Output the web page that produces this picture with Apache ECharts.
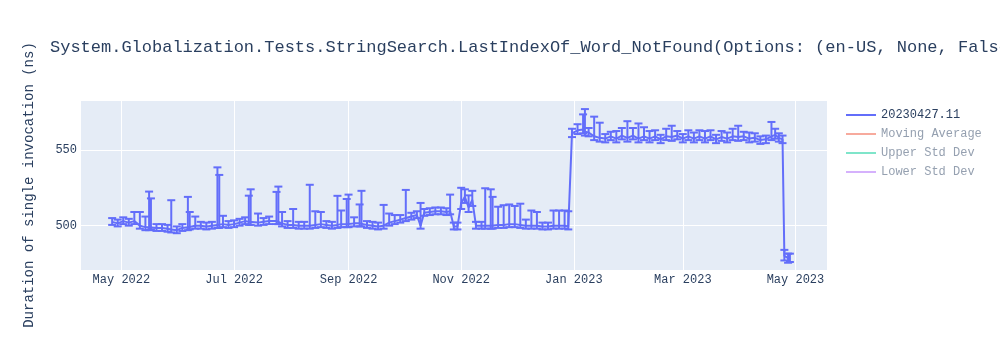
<!DOCTYPE html>
<html><head><meta charset="utf-8">
<script src="https://cdn.jsdelivr.net/npm/echarts@6/dist/echarts.min.js"></script>
<style>html,body{margin:0;padding:0;background:#fff}#c{width:1000px;height:350px}</style>
</head><body><div id="c"></div>
<script>
const titleText = "System.Globalization.Tests.StringSearch.LastIndexOf_Word_NotFound(Options: (en-US, None, False))";
const yAxisTitle = "Duration of single invocation (ns)";
const seriesName = "20230427.11";
const extraNames = ["Moving Average", "Upper Std Dev", "Lower Std Dev"];
const monthNames = ["Jan","Feb","Mar","Apr","May","Jun","Jul","Aug","Sep","Oct","Nov","Dec"];

const dates = [
"2022-04-26","2022-04-29","2022-05-02","2022-05-05","2022-05-08","2022-05-11","2022-05-14","2022-05-16","2022-05-17","2022-05-20",
"2022-05-23","2022-05-26","2022-05-28","2022-05-31","2022-06-03","2022-06-06","2022-06-07","2022-06-10","2022-06-13","2022-06-16",
"2022-06-19","2022-06-22","2022-06-23","2022-06-25","2022-06-28","2022-07-01","2022-07-04","2022-07-07","2022-07-09","2022-07-10",
"2022-07-14","2022-07-17","2022-07-20","2022-07-24","2022-07-25","2022-07-27","2022-07-30","2022-08-02","2022-08-05","2022-08-08",
"2022-08-11","2022-08-14","2022-08-17","2022-08-20","2022-08-23","2022-08-26","2022-08-28","2022-08-31","2022-09-01","2022-09-04",
"2022-09-07","2022-09-08","2022-09-11","2022-09-14","2022-09-17","2022-09-20","2022-09-23","2022-09-26","2022-09-29","2022-10-02",
"2022-10-05","2022-10-08","2022-10-10","2022-10-12","2022-10-15","2022-10-18","2022-10-21","2022-10-24","2022-10-26","2022-10-28",
"2022-10-30","2022-11-01","2022-11-03","2022-11-05","2022-11-07","2022-11-09","2022-11-12","2022-11-14","2022-11-17","2022-11-18",
"2022-11-21","2022-11-24","2022-11-27","2022-11-30","2022-12-03","2022-12-06","2022-12-09","2022-12-12","2022-12-15","2022-12-18",
"2022-12-21","2022-12-24","2022-12-27","2022-12-29","2022-12-31","2023-01-03","2023-01-06","2023-01-07","2023-01-09","2023-01-12",
"2023-01-15","2023-01-18","2023-01-21","2023-01-24","2023-01-27","2023-01-30","2023-02-02","2023-02-05","2023-02-08","2023-02-11",
"2023-02-14","2023-02-17","2023-02-20","2023-02-23","2023-02-26","2023-03-01","2023-03-04","2023-03-07","2023-03-10","2023-03-13",
"2023-03-16","2023-03-19","2023-03-22","2023-03-25","2023-03-28","2023-03-31","2023-04-03","2023-04-06","2023-04-09","2023-04-12",
"2023-04-15","2023-04-18","2023-04-20","2023-04-22","2023-04-24","2023-04-25","2023-04-27","2023-04-28"
];
const values = [
502.5,501.5,503,502,503,500,499,499,499.5,498.5,
498.5,498,497.5,497,498.5,499,499.5,500,500,499.5,
500,500.5,500.5,501,500.5,501,502,503,502.5,502.5,
502,502.5,503,503,503,501.5,500.5,500.5,500,500,
500,500.5,501,500.5,500,500.5,501,501,501,501.5,
501.5,501.5,500.5,500,499.5,500,502,503,504,505,
506,507,500,508.5,509,509.5,509.5,509,509.5,499.5,
499.5,515,519,512,517,500,500,500,500,500,
500.5,500.5,501,501,500.5,500,500,500,499.5,499.5,
500,500,500,499.5,561,563,563.5,562,561.5,559,
558,557.5,559,557.5,559.5,558,559.5,557.5,559,557.5,
559,557,559,558.5,559.5,557.5,559,557.5,559,557.5,
559,557,558.5,557.5,559,558.5,559,557.5,558,556.5,
557,559,560,558,557,480,478.5,479
];
const errPlus = [
2.5,2.5,2.5,2.5,6,9,7,23.5,18.5,2.5,
2.5,2.5,19.3,2.5,2.5,20,9.5,6,2.5,2.5,
2.5,38,33,5.5,2.5,2.5,2.5,2.5,17.3,21.5,
6,2.5,3,19.3,22.8,7.5,2.5,10.5,2.5,2.5,
27,9,8,2.5,2.5,19.2,9,16.6,19.5,4,
12.5,21.5,2.5,2.5,2.5,13.7,6,4,3,18.6,
2.5,2.5,15,2.5,2.5,2.5,2.5,2.5,11,2.5,
2.5,10,5,8,6,2.5,2.5,24.7,24,19,
12,13,13,12,14,4,10,9,2.5,2.5,
10,10,10,10,3,4,10,15,3,13,
10,3,3,5,5,11,5,10,6,5,
4,3,5,7.5,3,3,4,4,4,5,
4,3,4,4,5,7.5,3,4,3,2.5,
2.5,9.5,4,3,2.5,4,3,2.5
];
const errMinus = [
2,2,2,2,2,2,2,2,2,2,
2,2,2,2,2,2,2,2,2,2,
2,2,2,2,2,2,2,2,2,2,
2,2,2,2,2,2,2,2,2,2,
2,2,2,2,2,2,2,2,2,2,
2,2,2,2,2,2,2,2,2,2,
2,2,2,2,2,2,2,2,2,2,
2,4,4,3,4,2,2,2,2,2,
2,2,2,2,2,2,2,2,2,2,
2,2,2,2,2.5,2.5,2.5,2.5,2.5,2.5,
2.5,2.5,2.5,2.5,2.5,2.5,2.5,2.5,2.5,2.5,
2.5,2.5,2.5,2.5,2.5,2.5,2.5,2.5,2.5,2.5,
2.5,2.5,2.5,2.5,2.5,2.5,2.5,2.5,2.5,2.5,
2.5,2.5,2.5,2.5,2.5,3,3,3
];

const FONT = "'Liberation Mono', 'DejaVu Sans Mono', monospace";
const TXT = "#2a3f5f";
const lineData = dates.map((d, i) => [d, values[i]]);
const errData = dates.map((d, i) => [d, values[i], values[i] - errMinus[i], values[i] + errPlus[i]]);

function renderErr(params, api) {
  const x = api.value(0);
  const hi = api.coord([x, api.value(3)]);
  const lo = api.coord([x, api.value(2)]);
  const w = 4;
  const style = { stroke: '#636efa', lineWidth: 2, fill: null };
  return { type: 'group', children: [
    { type: 'line', shape: { x1: hi[0], y1: hi[1], x2: lo[0], y2: lo[1] }, style: style },
    { type: 'line', shape: { x1: hi[0] - w, y1: hi[1], x2: hi[0] + w, y2: hi[1] }, style: style },
    { type: 'line', shape: { x1: lo[0] - w, y1: lo[1], x2: lo[0] + w, y2: lo[1] }, style: style }
  ]};
}

const fadedColors = ['#f7aa9d', '#7fe5ca', '#d5b1fc'];
const chart = echarts.init(document.getElementById('c'), null, { renderer: 'canvas' });
chart.setOption({
  animation: false,
  backgroundColor: '#fff',
  title: { text: titleText, left: 45, top: 34, textStyle: { fontFamily: FONT, fontSize: 17, fontWeight: 'normal', color: TXT } },
  legend: {
    orient: 'vertical', left: 841, top: 104, itemWidth: 30, itemHeight: 2, itemGap: 7, icon: 'rect',
    textStyle: { fontFamily: FONT, fontSize: 12, color: TXT },
    data: [
      { name: seriesName, itemStyle: { color: '#636efa' } },
      ...extraNames.map((n, i) => ({ name: n, itemStyle: { color: fadedColors[i] }, textStyle: { color: '#95a0b0' } }))
    ]
  },
  grid: { left: 80, right: 173, top: 100, bottom: 80, show: true, backgroundColor: '#e5ecf6', borderWidth: 0 },
  xAxis: {
    type: 'time', min: '2022-04-08 14:00', max: '2023-05-18 02:00', splitNumber: 6,
    axisLine: { show: false }, axisTick: { show: false },
    splitLine: { show: true, lineStyle: { color: '#fff', width: 1 } },
    axisLabel: { fontFamily: FONT, fontSize: 12, color: TXT, margin: 4, hideOverlap: false,
      formatter: v => { const d = new Date(v); return monthNames[d.getMonth()] + ' ' + d.getFullYear(); } }
  },
  yAxis: {
    type: 'value', min: 470.7, max: 583, splitNumber: 2,
    name: yAxisTitle, nameLocation: 'middle', nameGap: 44, nameRotate: 90,
    nameTextStyle: { fontFamily: FONT, fontSize: 14, color: TXT },
    axisLine: { show: false }, axisTick: { show: false },
    splitLine: { show: true, lineStyle: { color: '#fff', width: 1 } },
    axisLabel: { fontFamily: FONT, fontSize: 12, color: TXT, margin: 3, showMinLabel: false, showMaxLabel: false,
      formatter: v => (v % 50 === 0 ? String(v) : '') }
  },
  series: [
    { type: 'custom', name: seriesName, renderItem: renderErr, clip: true, silent: true,
      dimensions: [{ name: 't', type: 'time' }, 'v', 'lo', 'hi'], encode: { x: 0, y: [1, 2, 3] },
      itemStyle: { color: '#636efa' }, data: errData, z: 2 },
    { type: 'line', name: seriesName, data: lineData, showSymbol: false, symbol: 'none',
      lineStyle: { color: '#636efa', width: 2 }, itemStyle: { color: '#636efa' }, z: 3 },
    ...extraNames.map((n, i) => ({ type: 'line', name: n, data: [], itemStyle: { color: fadedColors[i] } }))
  ]
});
</script>
</body></html>
